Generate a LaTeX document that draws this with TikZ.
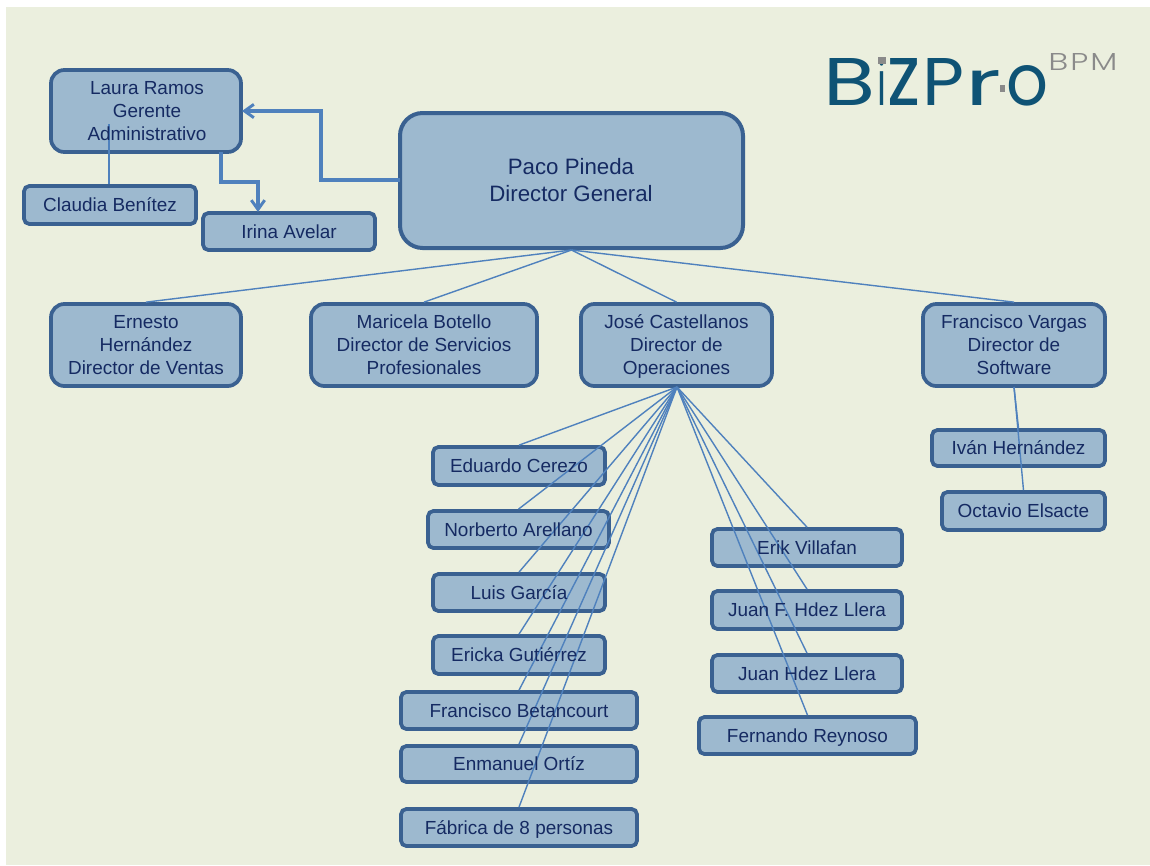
\documentclass[tikz,border=0pt]{standalone}
\usepackage{fontspec}
\usepackage{graphicx}
\setmainfont{Liberation Sans}
\newfontfamily\logofont{Poppins}
\newfontfamily\logothin{Poppins Light}
\usetikzlibrary{arrows.meta}
\definecolor{pagebg}{HTML}{EBEFDE}
\definecolor{boxfill}{HTML}{9DB9CF}
\definecolor{boxline}{HTML}{3A6191}
\definecolor{linkblue}{HTML}{4F81BD}
\definecolor{inktext}{HTML}{152A62}
\definecolor{logoblue}{HTML}{0F5375}
\definecolor{logogrey}{HTML}{8A8A8A}
\tikzset{
  x=0.75pt,y=-0.75pt,
  box/.style={draw=boxline,fill=boxfill,line width=2.8pt,rounded corners=4pt,inner sep=0pt},
  bigbox/.style={box,rounded corners=17pt,line width=3pt},
  midbox/.style={box,rounded corners=10pt},
  thin link/.style={draw=linkblue,line width=1.05pt},
  elbow/.style={draw=linkblue,line width=2.4pt,-{Straight Barb[length=7pt,width=10pt,line width=2.2pt]}},
  boxtext/.style={text=inktext,align=center,inner sep=0pt},
}
\newcommand{\bx}[6]{% name style x1 y1 x2 y2
  \node[#2,minimum width=#5*0.75pt-#3*0.75pt,minimum height=#6*0.75pt-#4*0.75pt,anchor=center] (#1) at ({(#3+#5)/2},{(#4+#6)/2}) {};}
\newcommand{\tx}[2]{\node[boxtext,yshift=-1.4pt,font=\fontsize{14.2}{17.4}\selectfont] at (#1) {\strut #2\strut};}
\newcommand{\lgl}[3]{\resizebox{#1\dimexpr0.75pt\relax}{#2\dimexpr0.75pt\relax}{#3}}
\newcommand{\lgap}[1]{\hspace*{#1\dimexpr0.75pt\relax}}
\begin{document}
\begin{tikzpicture}
\useasboundingbox (0,0) rectangle (1150,865);
\fill[pagebg] (6,7) rectangle (1150,865);
% boxes
\bx{laura}{midbox}{51}{70}{241}{152}
\bx{paco}{bigbox}{400}{113}{743}{248}
\bx{claudia}{box}{24}{186}{196}{224}
\bx{irina}{box}{203}{213}{375}{250}
\bx{ernesto}{midbox}{51}{304}{241}{386}
\bx{maricela}{midbox}{311}{304}{537}{386}
\bx{jose}{midbox}{581}{304}{772}{386}
\bx{vargas}{midbox}{923}{304}{1105}{386}
\bx{ivan}{box}{932}{430}{1105}{466}
\bx{octavio}{box}{942}{492}{1105}{530}
\bx{eduardo}{box}{433}{447}{605}{485}
\bx{norberto}{box}{428}{511}{609}{548}
\bx{luis}{box}{433}{574}{605}{611}
\bx{ericka}{box}{433}{636}{605}{674}
\bx{betancourt}{box}{401}{692}{637}{729}
\bx{enmanuel}{box}{401}{746}{637}{782}
\bx{fabrica}{box}{401}{809}{637}{846}
\bx{erik}{box}{712}{529}{902}{566}
\bx{juanf}{box}{712}{591}{902}{629}
\bx{juanh}{box}{712}{655}{902}{692}
\bx{fernando}{box}{699}{717}{916}{754}
% free ends of connectors
\coordinate (paco s) at (paco.south);
\coordinate (jose s) at (677,387);
\coordinate (vargas s) at (1014,387);
\coordinate (laura in) at (109,124);
\coordinate (laura out) at (221,152);
\coordinate (paco w) at (400,180);
\coordinate (laura e) at (242,111);
\coordinate (irina n) at (258,212);
% connectors
\draw[thin link] (laura in) -- (claudia.north -| laura in);
\draw[elbow] (paco w) -- (321,180) -- (321,111) -- (laura e);
\draw[elbow] (laura out) -- (221,182) -- (258,182) -- (irina n);
\foreach \t in {ernesto,maricela,jose,vargas}
  \draw[thin link] (paco s) -- (\t.north);
\foreach \t in {eduardo,norberto,luis,ericka,betancourt,enmanuel,fabrica,erik,juanf,juanh,fernando}
  \draw[thin link] (jose s) -- (\t.north);
\draw[thin link] (vargas s) -- (ivan.north);
\draw[thin link] (vargas s) -- (octavio.north);
% texts
\node[boxtext,xshift=0.75pt,yshift=-1.4pt,font=\fontsize{14.2}{17.4}\selectfont] at (laura) {\strut Laura Ramos\\Gerente\\Administrativo\strut};
\node[boxtext,font=\fontsize{16.7}{20.5}\selectfont] at (571,180) {Paco Pineda\\Director General};
\tx{claudia}{Claudia Benítez}
\tx{irina}{Irina Avelar}
\tx{ernesto}{Ernesto\\Hernández\\Director de Ventas}
\tx{maricela}{Maricela Botello\\Director de Servicios\\Profesionales}
\tx{jose}{José Castellanos\\Director de\\Operaciones}
\tx{vargas}{Francisco Vargas\\Director de\\Software}
\tx{ivan}{Iván Hernández}
\tx{octavio}{Octavio Elsacte}
\tx{eduardo}{Eduardo Cerezo}
\tx{norberto}{Norberto Arellano}
\tx{luis}{Luis García}
\tx{ericka}{Ericka Gutiérrez}
\tx{betancourt}{Francisco Betancourt}
\tx{enmanuel}{Enmanuel Ortíz}
\tx{fabrica}{Fábrica de 8 personas}
\tx{erik}{Erik Villafan}
\tx{juanf}{Juan F. Hdez Llera}
\tx{juanh}{Juan Hdez Llera}
\tx{fernando}{Fernando Reynoso}
% logo
\node[anchor=base west,inner sep=0pt,text=logoblue,font=\logofont\fontsize{40}{40}\selectfont] (logo) at (823,105)
  {\lgl{52}{47}{B}\lgap{2}\lgl{9}{47}{i}\lgap{1}\lgl{33}{47}{z}\lgap{2}\lgl{42}{47}{P}\lgap{1}\lgl{36}{35}{r}\lgap{5}\lgl{42}{40}{o}};
\fill[logogrey] (878,57) rectangle (886,64);
\fill[logogrey] (1000,85) rectangle (1005,92);
\node[anchor=base west,inner sep=0pt,text=logogrey,font=\logothin\fontsize{17}{17}\selectfont] (bpm) at (1048,70)
  {\lgl{20}{17}{B}\lgap{2}\lgl{18}{17}{P}\lgap{2}\lgl{27}{17}{M}};
\end{tikzpicture}
\end{document}
